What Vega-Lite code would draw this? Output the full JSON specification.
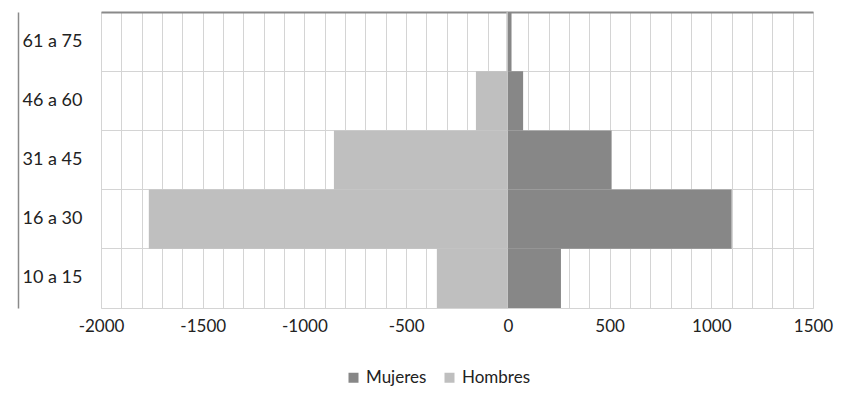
{
  "$schema": "https://vega.github.io/schema/vega-lite/v6.json",
  "autosize": "none",
  "width": 712,
  "height": 296,
  "padding": {"left": 101, "top": 12, "right": 32, "bottom": 111},
  "background": "white",
  "config": {
    "font": "Lato",
    "view": {"stroke": "#d4d4d4", "strokeWidth": 1}
  },
  "data": {
    "values": [
      {"edad": "61 a 75", "sexo": "Mujeres", "valor": 18},
      {"edad": "61 a 75", "sexo": "Hombres", "valor": -7},
      {"edad": "46 a 60", "sexo": "Mujeres", "valor": 75},
      {"edad": "46 a 60", "sexo": "Hombres", "valor": -157},
      {"edad": "31 a 45", "sexo": "Mujeres", "valor": 510},
      {"edad": "31 a 45", "sexo": "Hombres", "valor": -855},
      {"edad": "16 a 30", "sexo": "Mujeres", "valor": 1100},
      {"edad": "16 a 30", "sexo": "Hombres", "valor": -1765},
      {"edad": "10 a 15", "sexo": "Mujeres", "valor": 261},
      {"edad": "10 a 15", "sexo": "Hombres", "valor": -349}
    ]
  },
  "mark": {"type": "bar"},
  "encoding": {
    "y": {
      "field": "edad",
      "type": "nominal",
      "sort": ["61 a 75", "46 a 60", "31 a 45", "16 a 30", "10 a 15"],
      "scale": {"paddingInner": 0, "paddingOuter": 0},
      "axis": {
        "title": null,
        "ticks": false,
        "tickSize": 0,
        "offset": 83,
        "domain": true,
        "domainColor": "#8a8a8a",
        "domainWidth": 1.5,
        "labelAlign": "left",
        "labelPadding": -4,
        "labelFontSize": 18,
        "labelColor": "#222222",
        "grid": true,
        "bandPosition": 0,
        "gridColor": {"condition": {"test": "datum.value === '61 a 75'", "value": "#8a8a8a"}, "value": "#d4d4d4"},
        "gridWidth": {"condition": {"test": "datum.value === '61 a 75'", "value": 2}, "value": 1}
      }
    },
    "x": {
      "field": "valor",
      "type": "quantitative",
      "stack": null,
      "scale": {"domain": [-2000, 1500], "nice": false, "zero": true},
      "axis": {
        "title": null,
        "values": [-2000,-1900,-1800,-1700,-1600,-1500,-1400,-1300,-1200,-1100,-1000,-900,-800,-700,-600,-500,-400,-300,-200,-100,0,100,200,300,400,500,600,700,800,900,1000,1100,1200,1300,1400,1500],
        "labelExpr": "datum.value % 500 === 0 ? '' + datum.value : ''",
        "ticks": false,
        "domain": false,
        "grid": true,
        "gridColor": "#d4d4d4",
        "labelFontSize": 17,
        "labelColor": "#222222",
        "labelPadding": 10,
        "labelFlush": false
      }
    },
    "color": {
      "field": "sexo",
      "type": "nominal",
      "scale": {"domain": ["Mujeres", "Hombres"], "range": ["#878787", "#bfbfbf"]},
      "legend": {
        "title": null,
        "orient": "none",
        "legendX": 244,
        "legendY": 357,
        "direction": "horizontal",
        "symbolType": "square",
        "symbolSize": 100,
        "symbolStrokeWidth": 0,
        "labelFontSize": 17,
        "labelColor": "#222222",
        "columnPadding": 14
      }
    }
  }
}
